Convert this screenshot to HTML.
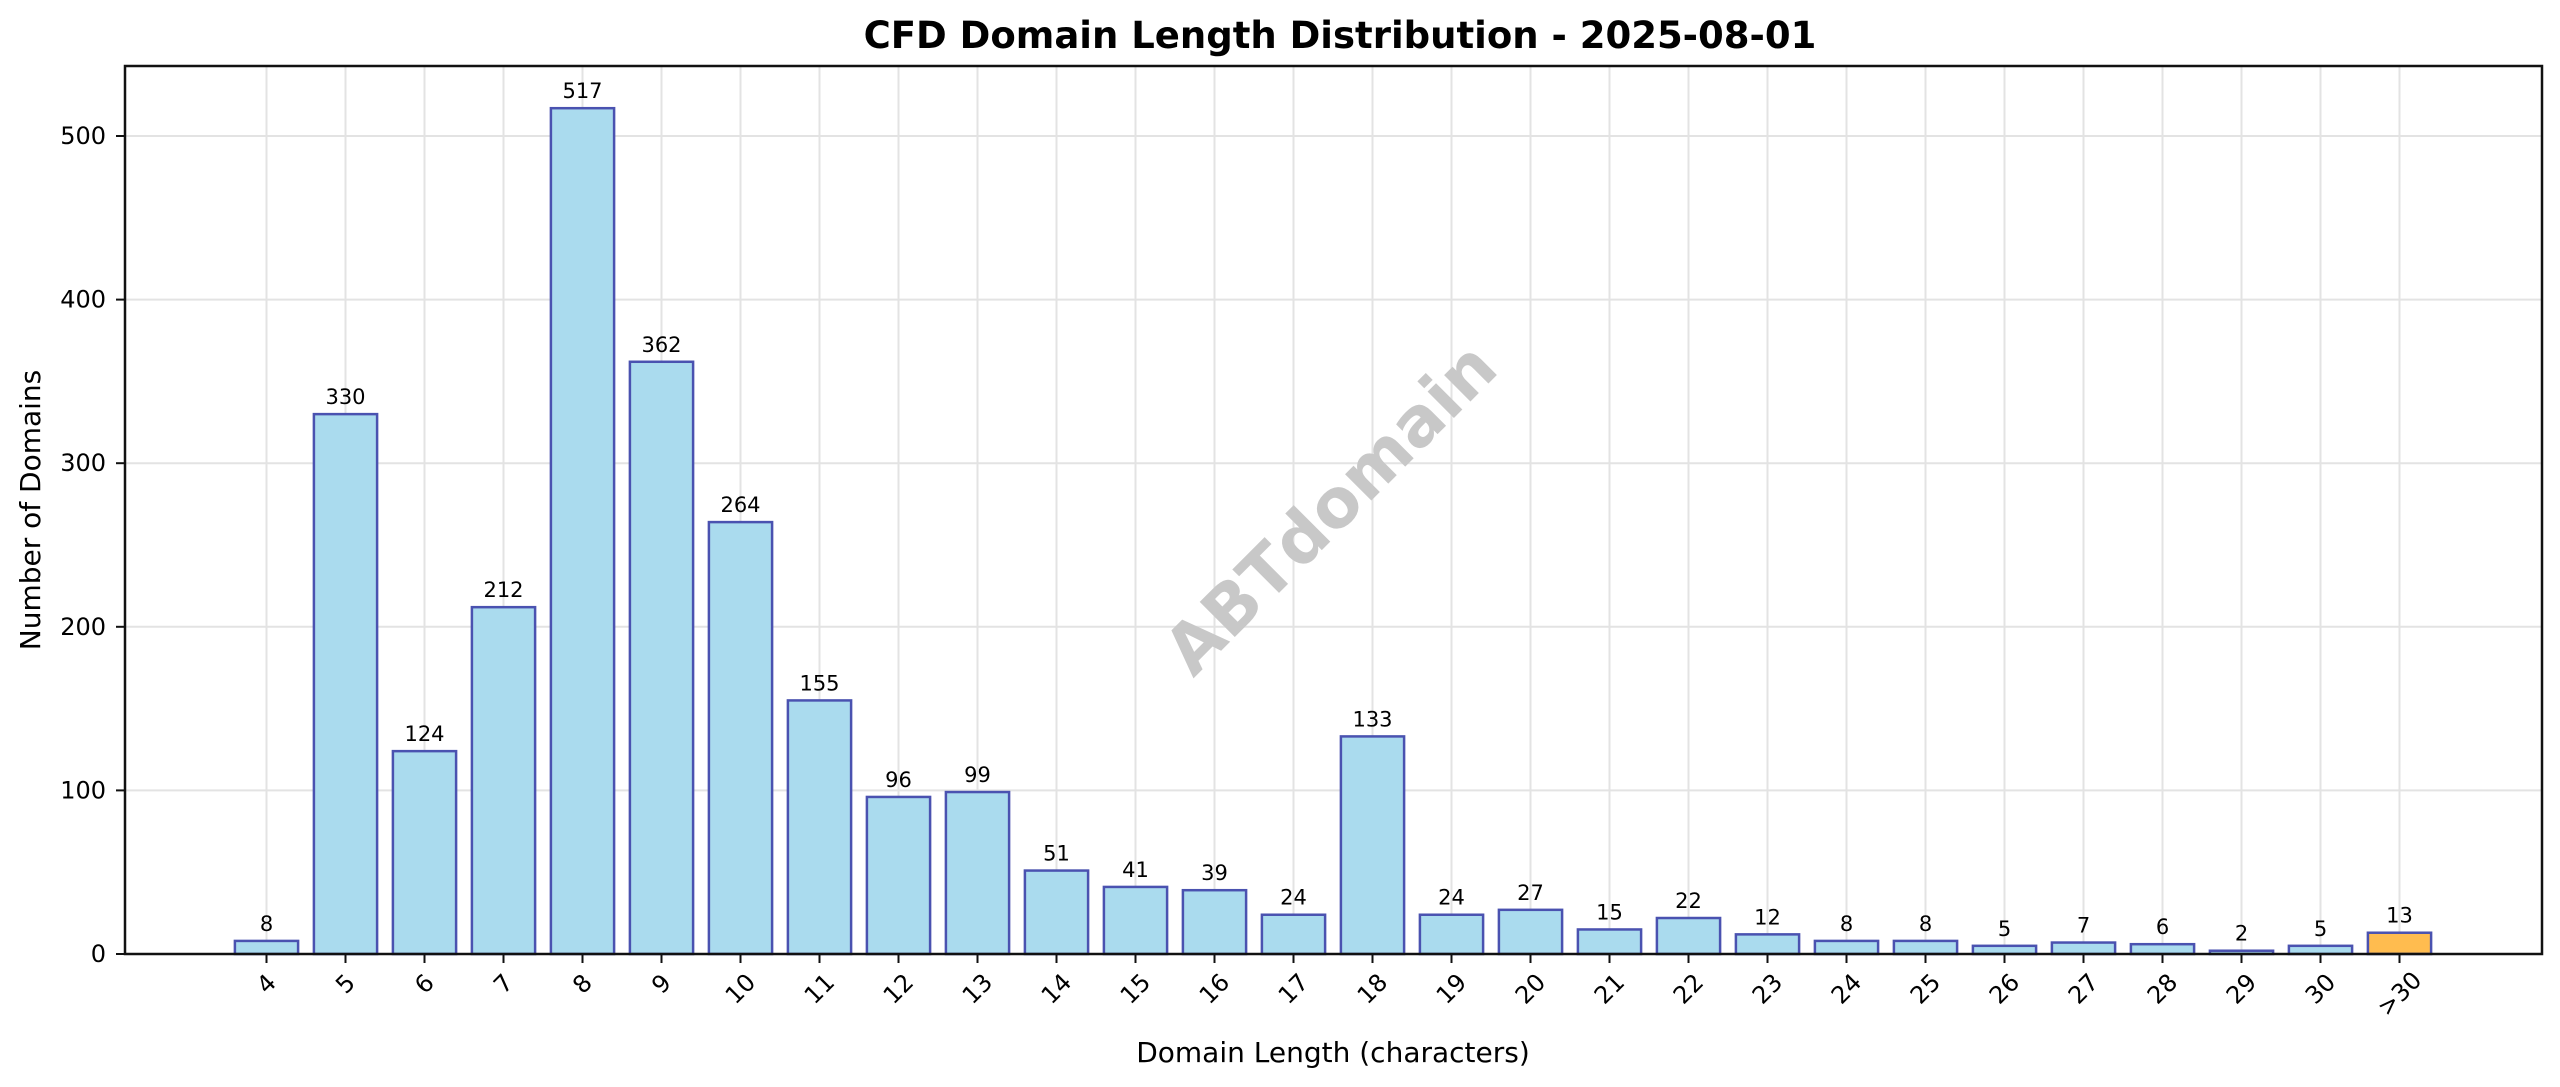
<!DOCTYPE html>
<html><head><meta charset="utf-8"><style>
html,body{margin:0;padding:0;background:#fff;}
svg{display:block;font-family:"DejaVu Sans","Liberation Sans",sans-serif;}
</style></head><body>
<svg id="chart" width="2560" height="1087" viewBox="0 0 2560 1087">
<text x="1340" y="48" text-anchor="middle" font-size="37" font-weight="bold" fill="#000">CFD Domain Length Distribution - 2025-08-01</text>
<g id="grid"></g>
<text x="1331" y="509" text-anchor="middle" dominant-baseline="central" font-size="68" font-weight="bold" fill="#c8c8c8" transform="rotate(-45 1331 509)">ABTdomain</text>
<g id="bars"></g>
<g id="labels"></g>
<rect x="125" y="66" width="2417" height="888" fill="none" stroke="#111" stroke-width="2.5"/>
<g id="xticks"></g>
<g id="yticks"></g>
<text x="1333" y="1062" text-anchor="middle" font-size="28" fill="#000">Domain Length (characters)</text>
<text x="40" y="510" text-anchor="middle" font-size="28" fill="#000" transform="rotate(-90 40 510)">Number of Domains</text>
</svg>
<script>
const categories = ["4","5","6","7","8","9","10","11","12","13","14","15","16","17","18","19","20","21","22","23","24","25","26","27","28","29","30",">30"];
const counts = [8,330,124,212,517,362,264,155,96,99,51,41,39,24,133,24,27,15,22,12,8,8,5,7,6,2,5,13];
const yTicks = [0,100,200,300,400,500];
const NS = "http://www.w3.org/2000/svg";
const x0 = 266.5, step = 79.0, bw = 63.2;
const yBase = 954, yScale = 1.636;
const xPos = i => x0 + i * step;
const yPos = v => yBase - v * yScale;
function mk(tag, attrs, parent, txt){const e=document.createElementNS(NS,tag);for(const k in attrs)e.setAttribute(k,attrs[k]);if(txt!==undefined)e.textContent=txt;parent.appendChild(e);return e;}
const grid=document.getElementById('grid'),bars=document.getElementById('bars'),labels=document.getElementById('labels'),xt=document.getElementById('xticks'),yt=document.getElementById('yticks');
yTicks.forEach(v=>{
  const y=yPos(v);
  const g=mk('line',{x1:125,x2:2542,y1:y,y2:y,stroke:'#e3e3e3','stroke-width':2},grid);
  
  
  const t=mk('line',{x1:116,x2:125,y1:y,y2:y,stroke:'#111','stroke-width':2},yt);
  
  
  const l=mk('text',{x:106,y:y,'text-anchor':'end','dominant-baseline':'central','font-size':24,fill:'#000'},yt,String(v));
  
  
});
categories.forEach((c,i)=>{
  const x=xPos(i), v=counts[i];
  const g=mk('line',{x1:x,x2:x,y1:66,y2:954,stroke:'#e3e3e3','stroke-width':2},grid);
  
  
  const last = i===categories.length-1;
  const r=mk('rect',{x:x-bw/2,y:yPos(v),width:bw,height:v*yScale,fill:last?'#ffbc4f':'#aadbee',stroke:'#4a52b0','stroke-width':2.5},bars);
  
  
  const vl=mk('text',{x:x,y:yPos(v)-10,'text-anchor':'middle','font-size':21,fill:'#000'},labels,String(v));
  
  
  const t=mk('line',{x1:x,x2:x,y1:954,y2:963,stroke:'#111','stroke-width':2},xt);
  
  
  const hw = c.length*7;
  const cy = 975 + hw*0.707 + 4;
  const tl=mk('text',{x:x,y:cy,'text-anchor':'middle','dominant-baseline':'central','font-size':24,fill:'#000',transform:`rotate(-45 ${x} ${cy})`},xt,c);
  
  
});
</script>
</body></html>
